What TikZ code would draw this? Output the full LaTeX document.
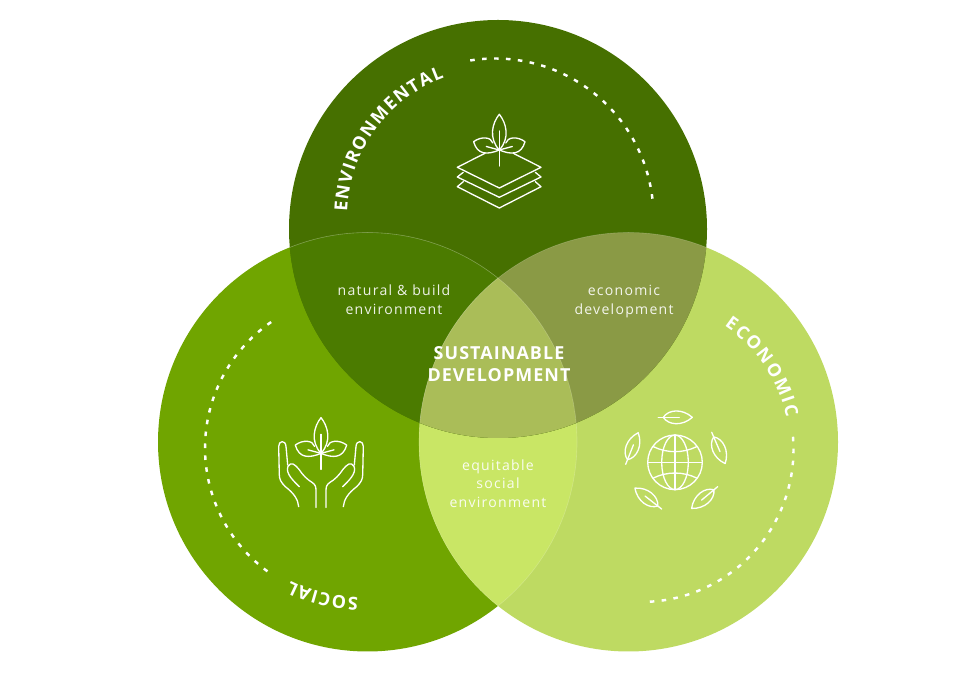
\documentclass[tikz,border=0pt]{standalone}
\usepackage{fontspec}
\setmainfont{Open Sans}
\usetikzlibrary{decorations.text}
\definecolor{envgreen}{HTML}{467000}
\definecolor{socgreen}{HTML}{70A500}
\definecolor{ecogreen}{HTML}{BEDA62}
\definecolor{natgreen}{HTML}{4B7B00}
\definecolor{devgreen}{HTML}{8A9A45}
\definecolor{equgreen}{HTML}{C9E665}
\definecolor{susgreen}{HTML}{AABD58}

\begin{document}
\begin{tikzpicture}[
  overlap/.style={font=\fontsize{8}{10.6}\selectfont\addfontfeature{LetterSpace=9}, text=white, text opacity=0.9, align=center, inner sep=0pt},
  core/.style={font=\fontsize{10.2}{12.4}\selectfont\bfseries\addfontfeature{LetterSpace=6}, text=white, align=center, inner sep=0pt},
  dashline/.style={draw=white, line width=1.4pt, dash pattern=on 2.6pt off 4.2pt},
  icon/.style={draw=white, line width=0.75pt, line join=round, line cap=round},
  seam/.style={draw=white, draw opacity=0.2, line width=0.35pt},
  arcword/.style={decorate, decoration={text along path, text align=fit to path, text={|\fontsize{10.2}{11}\selectfont\bfseries\color{white}|#1}}},
  plant/.pic={
    \draw[icon] (0,0) .. controls (-11,-12) and (-7,-27) .. (0,-35.7) .. controls (7,-27) and (11,-12) .. (0,0);
    \draw[icon] (0,0) .. controls (12,5) and (22,5) .. (25.7,-8.3) .. controls (18,-14) and (8,-13) .. (6.5,-7);
    \draw[icon] (0,0) .. controls (-12,5) and (-22,5) .. (-25.7,-8.3) .. controls (-18,-14) and (-8,-13) .. (-6.5,-7);
    \draw[icon] (0,-19) -- (0,16);
    \draw[icon] (-13,-3.5) -- (0,0) -- (13,-3.5);
  },
  leaf/.pic={
    \draw[icon] (5,0) .. controls (10,-8) and (24,-9) .. (34,0) .. controls (24,9) and (10,8) .. (5,0);
    \draw[icon] (0,0) -- (21,0);
  },
  palm/.pic={
    \draw[icon] (22.3,53.3) .. controls (23,46) and (27,40) .. (35.7,33.3) .. controls (40,29) and (41.7,26) .. (41.7,21) -- (42.3,-7) .. controls (42.3,-13) and (35.5,-13.5) .. (35,-7) -- (33.3,11.7);
    \draw[icon] (21.7,33.3) .. controls (27,28) and (36,20) .. (33,13) .. controls (30,8) and (26,11) .. (22,16) .. controls (18,22) and (14,26) .. (9,29) .. controls (6,31) and (5,33) .. (5,37) -- (5,54);
  },
]
  \useasboundingbox (0,0) rectangle (19.32,13.92);

  \coordinate (topc) at (9.96,9.34);
  \coordinate (leftc) at (7.35,5.08);
  \coordinate (rightc) at (12.57,5.08);

  \fill[socgreen] (leftc) circle (4.19);
  \fill[ecogreen] (rightc) circle (4.19);
  \begin{scope}
    \clip (leftc) circle (4.19);
    \fill[equgreen] (rightc) circle (4.19);
    \draw[seam] (rightc) circle (4.19);
  \end{scope}
  \begin{scope}
    \clip (rightc) circle (4.19);
    \draw[seam] (leftc) circle (4.19);
  \end{scope}
  \fill[envgreen] (topc) circle (4.18);
  \begin{scope}
    \clip (topc) circle (4.18);
    \fill[natgreen] (leftc) circle (4.19);
    \fill[devgreen] (rightc) circle (4.19);
    \draw[seam] (leftc) circle (4.19);
    \draw[seam] (rightc) circle (4.19);
    \clip (leftc) circle (4.19);
    \fill[susgreen] (rightc) circle (4.19);
    \draw[seam] (rightc) circle (4.19);
    \draw[seam] (leftc) circle (4.19);
  \end{scope}

  % dashed arcs
  \coordinate (envarc) at (9.9,9.58);
  \coordinate (ecoarc) at (12.82,4.93);
  \coordinate (socarc) at (7.16,4.96);
  \draw[dashline] (envarc) ++(99:3.17) arc[start angle=99, end angle=4.7, radius=3.17];
  \draw[dashline] (ecoarc) ++(4.8:3.05) arc[start angle=4.8, end angle=-86.7, radius=3.05];
  \draw[dashline] (socarc) ++(124.6:3.06) arc[start angle=124.6, end angle=234, radius=3.06];

  % curved titles
  \path[arcword=ENVIRONMENTAL] (envarc) ++(178:2.96) arc[start angle=178, end angle=110, radius=2.96];
  \path[arcword=ECONOMIC] (ecoarc) ++(56:2.98) arc[start angle=56, end angle=12.5, radius=2.98];
  \path[arcword=SOCIAL] (socarc) ++(270:2.98) arc[start angle=270, end angle=243, radius=2.98];

  % region labels
  \node[overlap] (natural) at (7.88,7.93) {natural \& build\\environment};
  \node[overlap] (economic) at (12.48,7.89) {economic\\development};
  \node[overlap] (equitable) at (9.96,4.25) {equitable\\social\\environment};
  \node[core] (sustain) at (9.98,6.64) {SUSTAINABLE\\DEVELOPMENT};

  % icons
  \begin{scope}[shift={(9.986,10.92)}, x=0.02cm, y=-0.02cm]
    \pic {plant};
    \draw[icon] (-14.3,3.3) -- (-42,17.3) -- (0,38) -- (41.7,17.3) -- (14,3.3);
    \draw[icon] (-36,22.3) -- (-42,27) -- (0,47.3) -- (41.7,27) -- (36,22.3);
    \draw[icon] (-36,31.7) -- (-42,36.7) -- (0,58) -- (41.7,36.7) -- (36,31.7);
  \end{scope}
  \begin{scope}[shift={(6.42,4.853)}, x=0.02cm, y=-0.02cm]
    \pic {plant};
    \pic {palm};
    \pic[xscale=-1] {palm};
  \end{scope}
  \begin{scope}[shift={(13.5,4.673)}, x=0.02cm, y=-0.02cm]
    \draw[icon] (0,0) circle (27.3);
    \draw[icon] (0,0) ellipse (13.3 and 27.3);
    \draw[icon] (0,-27.3) -- (0,27.3);
    \draw[icon] (-27.3,0) -- (27.3,0);
    \draw[icon] (-21.7,-15.7) .. controls (-8,-9) and (8,-9) .. (21.7,-15.7);
    \draw[icon] (-21.7,15.7) .. controls (-8,9) and (8,9) .. (21.7,15.7);
    \pic[rotate=0] at (-16.7,-45) {leaf};
    \pic[rotate=68.4] at (-49.3,2) {leaf};
    \pic[rotate=-66.7] at (36.7,-30) {leaf};
    \pic[rotate=219.8] at (42.7,24.3) {leaf};
    \pic[rotate=142] at (-13.3,46.7) {leaf};
  \end{scope}
\end{tikzpicture}
\end{document}
